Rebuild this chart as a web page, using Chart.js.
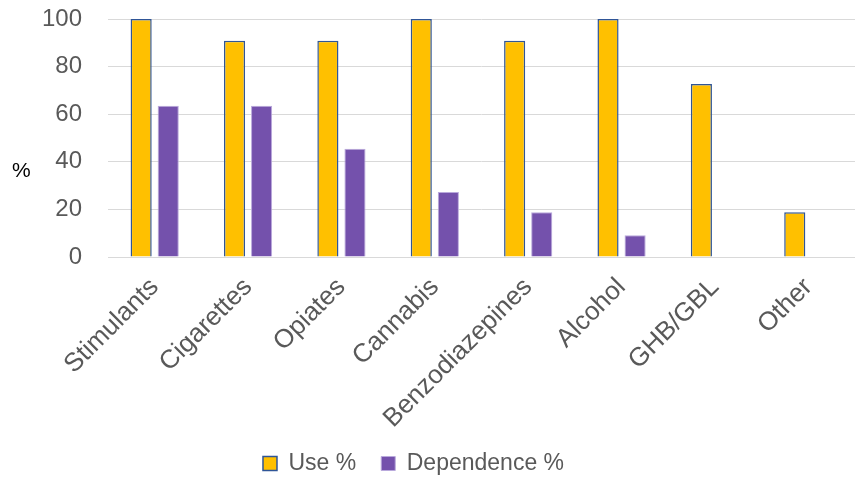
<!DOCTYPE html>
<html>
<head>
<meta charset="utf-8">
<script src="https://cdn.jsdelivr.net/npm/chart.js@4"></script>
<style>
  html, body { margin: 0; padding: 0; background: #ffffff; overflow: hidden; }
  #drugChart { display: block; }
</style>
</head>
<body>
<canvas id="drugChart" width="855" height="478"></canvas>
<script>
// chart values
const categories = ["Stimulants", "Cigarettes", "Opiates", "Cannabis", "Benzodiazepines", "Alcohol", "GHB/GBL", "Other"]
const usePct = [100, 90.9, 90.9, 100, 90.9, 100, 72.7, 18.8]
const dependencePct = [63.6, 63.6, 45.5, 27.3, 18.8, 9.1, 0, 0]
const yTicks = [0, 20, 40, 60, 80, 100]

const textGrey = "#595959"
const gridGrey = "#d9d9d9"
const fontFamily = "'Liberation Sans', Arial, sans-serif"

// draws the horizontal "%" axis label on the left
const percentLabel = {
  id: "percentLabel",
  afterDraw(chart) {
    const c = chart.ctx
    c.save()
    c.fillStyle = "#000000"
    c.font = "21px " + fontFamily
    c.textAlign = "left"
    c.textBaseline = "middle"
    c.fillText("%", 12, 171)
    c.restore()
  },
}

// legend in the original sits a little left of the canvas centre
const nudgeLegend = {
  id: "nudgeLegend",
  afterLayout(chart) {
    if (chart.legend) {
      chart.legend.left -= 14
      chart.legend.right -= 14
    }
  },
}

const ctx = document.getElementById("drugChart").getContext("2d")
new Chart(ctx, {
  type: "bar",
  data: {
    labels: categories,
    datasets: [
      {
        label: "Use %",
        data: usePct,
        backgroundColor: "#ffc000",
        borderColor: "#2f5597",
        borderWidth: 1.5,
        categoryPercentage: 0.58,
        barPercentage: 0.78,
      },
      {
        label: "Dependence %",
        data: dependencePct,
        backgroundColor: "#7451ac",
        borderColor: "#b9a9dc",
        borderWidth: 1,
        categoryPercentage: 0.58,
        barPercentage: 0.78,
      },
    ],
  },
  options: {
    responsive: false,
    animation: false,
    devicePixelRatio: 1,
    layout: { padding: { top: 19, left: 0, right: 0, bottom: -7 } },
    plugins: {
      legend: {
        position: "bottom",
        labels: {
          color: textGrey,
          font: { size: 23, family: fontFamily },
          boxWidth: 14,
          boxHeight: 14,
          padding: 25,
        },
      },
      tooltip: { enabled: false },
    },
    scales: {
      x: {
        grid: { display: false },
        border: { color: gridGrey },
        ticks: {
          color: textGrey,
          font: { size: 26, family: fontFamily },
          minRotation: 45,
          maxRotation: 45,
          autoSkip: false,
          padding: 7,
        },
        afterFit(scale) {
          scale.height = 170
        },
      },
      y: {
        min: 0,
        max: 100,
        afterBuildTicks(scale) {
          scale.ticks = yTicks.map((v) => ({ value: v }))
        },
        grid: { color: gridGrey, drawTicks: false, lineWidth: 1 },
        border: { display: false },
        ticks: {
          color: textGrey,
          font: { size: 24, family: fontFamily },
          padding: 26,
        },
        afterFit(scale) {
          scale.width = 108
          scale.paddingTop = 0
          scale.paddingBottom = 0
        },
      },
    },
  },
  plugins: [percentLabel, nudgeLegend],
})
</script>
</body>
</html>
